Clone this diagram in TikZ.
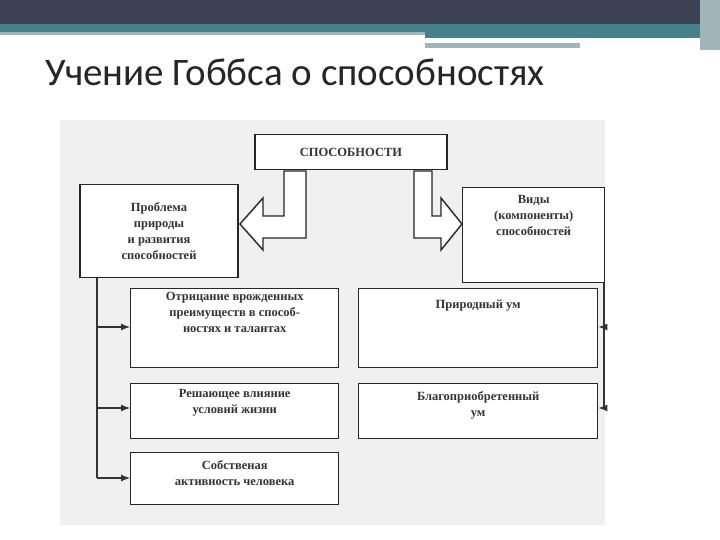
\documentclass[tikz,border=0pt]{standalone}
\usepackage{fontspec}
\usetikzlibrary{arrows.meta}
\setmainfont{Liberation Serif}
\newfontfamily\titlefont{Carlito}
\begin{document}
\begin{tikzpicture}[x=1pt,y=-1pt,
  box/.style={draw=black!85,line width=1.4pt,fill=white,align=center,font=\bfseries\fontsize{12.5}{16}\selectfont,inner sep=2pt},
  txt/.style={align=center,font=\bfseries\fontsize{12.5}{16}\selectfont,inner sep=2pt,text=black!80},
  conn/.style={draw=black!80,line width=1.1pt,-{Latex[length=9pt,width=7pt]}},
  blk/.style={draw=black!85,line width=1.4pt,fill=white}]
\useasboundingbox (0,0) rectangle (720,540);
\fill[white] (0,0) rectangle (720,540);
\fill[fill={rgb,255:red,62;green,66;blue,84}] (0,0) rectangle (720,24);
\fill[fill={rgb,255:red,70;green,128;blue,136}] (0,24) rectangle (720,32);
\fill[fill={rgb,255:red,160;green,180;blue,186}] (0,32) rectangle (425,35);
\fill[fill={rgb,255:red,70;green,128;blue,136}] (425,32) rectangle (705,38);
\fill[fill={rgb,255:red,160;green,180;blue,186}] (425,43) rectangle (580,48);
\fill[fill={rgb,255:red,160;green,180;blue,186}] (700,0) rectangle (720,50);
\node[anchor=base west,font=\titlefont\fontsize{39}{44}\selectfont,text=black!85,inner sep=0] (title) at (45,86) {Учение Гоббса о способностях};
\fill[black!6] (60,120) rectangle (605,525);
\node[box,minimum width=192,minimum height=35,text=black!80] (top) at (351,152) {СПОСОБНОСТИ};
\node[box,minimum width=158,minimum height=93,text=black!80] (l) at (159,231) {Проблема\\природы\\и развития\\способностей};
\node[box,minimum width=142,minimum height=95,anchor=north west] (r) at (462,187) {};
\node[txt,anchor=north] (rt0) at ([yshift=-6]r.north) {Виды\\(компоненты)\\способностей};
\node[box,minimum width=208,minimum height=79,anchor=north west] (l1) at (130,288) {};
\node[txt,anchor=north] (l1t) at ([yshift=-2]l1.north) {Отрицание врожденных\\преимуществ в способ-\\ностях и талантах};
\node[box,minimum width=208,minimum height=55,anchor=north west] (l2) at (130,383) {};
\node[txt,anchor=north] (l2t) at ([yshift=-4]l2.north) {Решающее влияние\\условий жизни};
\node[box,minimum width=208,minimum height=52,anchor=north west] (l3) at (130,452) {};
\node[txt,anchor=north] (l3t) at ([yshift=-6]l3.north) {Собственая\\активность человека};
\node[box,minimum width=239,minimum height=79,anchor=north west] (r1) at (358,288) {};
\node[txt,anchor=north] (r1t) at ([yshift=-10]r1.north) {Природный ум};
\node[box,minimum width=239,minimum height=55,anchor=north west] (r2) at (358,383) {};
\node[txt,anchor=north] (r2t) at ([yshift=-6]r2.north) {Благоприобретенный\\ум};
% block arrows
\draw[blk] (284,171) -- (306,171) -- (306,238) -- (263,238) -- (263,250) -- (240,224) -- (263,198) -- (263,216) -- (284,216) -- cycle;
\draw[blk] (432,171) -- (414,171) -- (414,238) -- (441,238) -- (441,250) -- (462,224) -- (441,198) -- (441,216) -- (432,216) -- cycle;
% connectors
\coordinate (lt) at (97,278);
\coordinate (lb) at (97,478);
\draw[draw=black!80,line width=1.1pt] (lt) -- (lb);
\draw[conn] (97,327) -- (l1.west |- 0,327);
\draw[conn] (97,408) -- (l2.west |- 0,408);
\draw[conn] (lb) -- (l3.west |- 0,478);
\coordinate (rt) at (604,282);
\coordinate (rb) at (604,408);
\draw[draw=black!80,line width=1.1pt] (rt) -- (rb);
\draw[conn] (604,327) -- (r1.east |- 0,327);
\draw[conn] (rb) -- (r2.east |- 0,408);
\end{tikzpicture}
\end{document}
